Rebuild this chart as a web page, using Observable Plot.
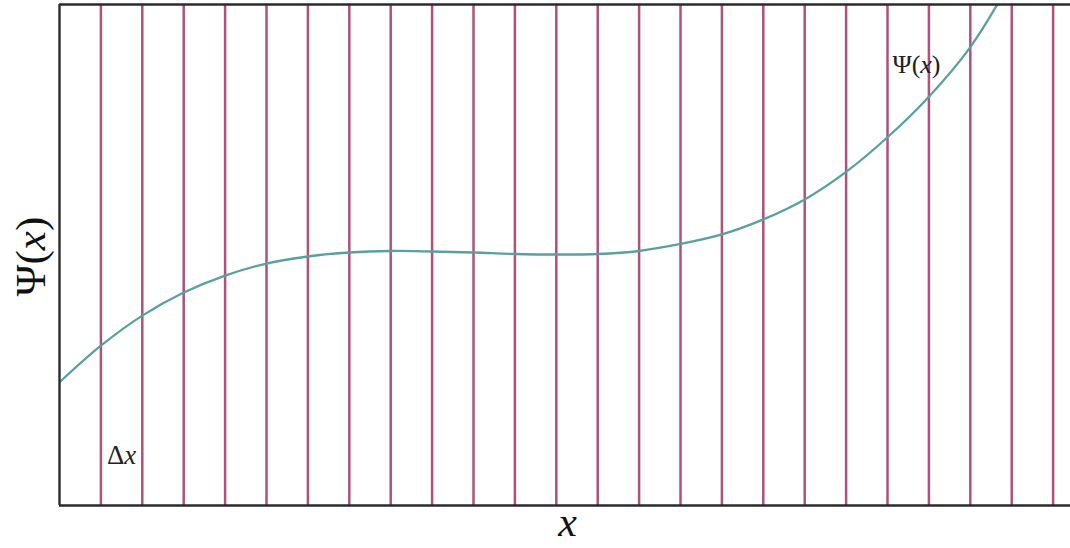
<!DOCTYPE html>
<html>
<head>
<meta charset="utf-8">
<script src="https://cdn.jsdelivr.net/npm/d3@7"></script>
<script src="https://cdn.jsdelivr.net/npm/@observablehq/plot@0.6"></script>
<style>
  html, body { margin: 0; padding: 0; background: #fff; }
  #chart svg { display: block; }
</style>
</head>
<body>
<div id="chart"></div>
<script>
// Grid positions in units of Δx
const gridX = [1,2,3,4,5,6,7,8,9,10,11,12,13,14,15,16,17,18,19,20,21,22,23,24];
// Curve samples: x (units of Δx), Ψ(x)
const curveX = [0,1,2,3,4,5,6,7,8,9,10,11,12,13,14,15,16,17,18,19,20,21,22,23];
const curveY = [2.46,3.19,3.79,4.25,4.59,4.83,4.97,5.05,5.08,5.07,5.05,5.02,5.01,5.02,5.08,5.22,5.41,5.71,6.11,6.66,7.35,8.16,9.15,10.5];
// Annotations
const annoText = ["Ψ(x)", "Δx"];
const annoX = [20.7, 1.5];
const annoY = [8.8, 1.0];
const annoSize = [26, 27];
const xLabel = "x";
const yLabel = "Ψ(x)";

const curve = curveX.map((x, i) => ({x, y: curveY[i]}));
const annos = annoText.map((t, i) => ({t, x: annoX[i], y: annoY[i], s: annoSize[i]}));

const xMax = 24.42, yMin = 0, yMax = 10;
const serif = "Liberation Serif, DejaVu Serif, serif";

const chart = Plot.plot({
  width: 1070,
  height: 548,
  marginLeft: 59,
  marginRight: 0,
  marginTop: 4,
  marginBottom: 43,
  x: {domain: [0, xMax], axis: null},
  y: {domain: [yMin, yMax], axis: null},
  style: {background: "#fff", overflow: "visible"},
  marks: [
    Plot.ruleX(gridX, {x: d => d, y1: yMin, y2: yMax, stroke: "#b0517a", strokeWidth: 2.5}),
    Plot.line(curve, {x: "x", y: "y", curve: "catmull-rom", stroke: "#5aa0a1", strokeWidth: 2.3, clip: "frame"}),
    Plot.ruleY([yMin, yMax], {y: d => d, x1: 0, x2: xMax, stroke: "#2b2b2b", strokeWidth: 2.4}),
    Plot.ruleX([0], {x: d => d, y1: yMin, y2: yMax, stroke: "#2b2b2b", strokeWidth: 2.4}),
    Plot.text(annos.filter(d => d.t === "Ψ(x)"), {x: "x", y: "y", text: "t", fontSize: annoSize[0], fontFamily: serif, fill: "#222"}),
    Plot.text(annos.filter(d => d.t === "Δx"), {x: "x", y: "y", text: "t", fontSize: annoSize[1], fontFamily: serif, fill: "#222"}),
    Plot.text([xLabel], {x: 12.27, frameAnchor: "bottom", lineAnchor: "middle", dy: 17, text: d => d, fontSize: 42, fontFamily: serif, fontStyle: "italic", fill: "#111"}),
    Plot.text([yLabel], {y: 4.97, frameAnchor: "left", textAnchor: "middle", lineAnchor: "middle", dx: -28, rotate: -90, text: d => d, fontSize: 43, fontFamily: serif, fill: "#111"})
  ]
});

// italicize the variable x inside text like "Ψ(x)" / "Δx"
d3.select(chart).selectAll("text").each(function() {
  const el = d3.select(this);
  const s = el.text();
  if (s.includes("x") && s.length > 1) {
    const parts = s.split("x");
    el.text(null);
    parts.forEach((p, i) => {
      if (p) el.append("tspan").text(p);
      if (i < parts.length - 1) el.append("tspan").attr("font-style", "italic").text("x");
    });
  }
});

document.getElementById("chart").appendChild(chart);
</script>
</body>
</html>
